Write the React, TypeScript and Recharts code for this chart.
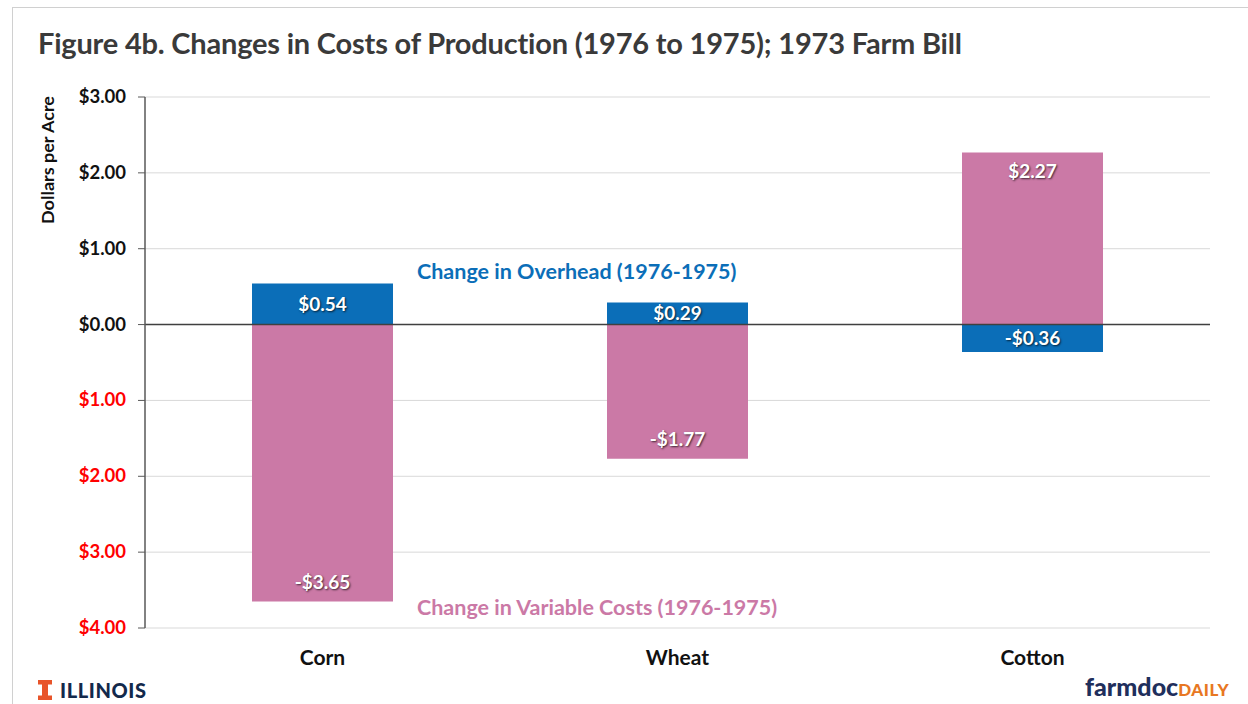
import React from 'react';
import {
  BarChart,
  Bar,
  XAxis,
  YAxis,
  CartesianGrid,
  ReferenceLine,
  LabelList,
} from 'recharts';

const crops = ['Corn', 'Wheat', 'Cotton'];
const overheadChange = [0.54, 0.29, -0.36];
const variableChange = [-3.65, -1.77, 2.27];
const yTicks = [-4, -3, -2, -1, 0, 1, 2, 3];

const BLUE = '#0B6EB8';
const PINK = '#CB79A6';
const FONT = 'Lato, "Open Sans", sans-serif';

const data = crops.map((crop, i) => ({
  crop,
  overhead: overheadChange[i],
  variable: variableChange[i],
}));

const fmt = (v: number) => (v < 0 ? '-$' : '$') + Math.abs(v).toFixed(2);

function YTick(props: any) {
  const { x, y, payload } = props;
  const v = payload.value as number;
  return (
    <text
      x={x}
      y={y}
      dy={6}
      textAnchor="end"
      fontFamily={FONT}
      fontWeight={700}
      fontSize={18.5}
      fill={v < 0 ? '#FF0000' : '#111'}
    >
      {'$' + Math.abs(v).toFixed(2)}
    </text>
  );
}

function XTick(props: any) {
  const { x, y, payload } = props;
  return (
    <text
      x={x}
      y={y}
      dy={18}
      textAnchor="middle"
      fontFamily={FONT}
      fontWeight={700}
      fontSize={21}
      fill="#111"
    >
      {payload.value}
    </text>
  );
}

const shadow = { textShadow: '1px 1px 2px rgba(0,0,0,0.7)' };

// overhead labels sit in the middle of the bar
function CenterLabel(props: any) {
  const { x, y, width, height, value } = props;
  const top = Math.min(y, y + height);
  const h = Math.abs(height);
  return (
    <text
      x={x + width / 2}
      y={top + h / 2}
      dy={6.5}
      textAnchor="middle"
      fontFamily={FONT}
      fontWeight={700}
      fontSize={19}
      fill="#fff"
      style={shadow}
    >
      {fmt(value)}
    </text>
  );
}

// variable-cost labels sit inside the far end of the bar
function EndLabel(props: any) {
  const { x, y, width, height, value } = props;
  const top = Math.min(y, y + height);
  const bottom = Math.max(y, y + height);
  const ly = value < 0 ? bottom - 19 : top + 19;
  return (
    <text
      x={x + width / 2}
      y={ly}
      dy={6.5}
      textAnchor="middle"
      fontFamily={FONT}
      fontWeight={700}
      fontSize={19}
      fill="#fff"
      style={shadow}
    >
      {fmt(value)}
    </text>
  );
}

export default function App() {
  return (
    <div
      style={{
        position: 'absolute',
        left: 0,
        top: 0,
        width: 1248,
        height: 704,
        background: '#fff',
        overflow: 'hidden',
        fontFamily: FONT,
      }}
    >
      <div style={{ position: 'absolute', left: 12, top: 7, right: 0, height: 1, background: '#D0D0D0' }} />
      <div style={{ position: 'absolute', left: 12, top: 7, bottom: 0, width: 1, background: '#D0D0D0' }} />

      <div
        style={{
          position: 'absolute',
          left: 38,
          top: 25,
          fontSize: 29,
          fontWeight: 700,
          color: '#3A3A3A',
          whiteSpace: 'nowrap',
          letterSpacing: -0.2,
        }}
      >
        Figure 4b. Changes in Costs of Production (1976 to 1975); 1973 Farm Bill
      </div>

      <svg
        width={80}
        height={260}
        style={{ position: 'absolute', left: 0, top: 80 }}
      >
        <text
          transform="translate(54 80) rotate(-90)"
          textAnchor="middle"
          fontFamily={FONT}
          fontWeight={700}
          fontSize={17}
          fill="#111"
          textLength={128}
          lengthAdjust="spacingAndGlyphs"
        >
          Dollars per Acre
        </text>
      </svg>

      <div style={{ position: 'absolute', left: 0, top: 0 }}>
        <BarChart
          width={1248}
          height={704}
          data={data}
          stackOffset="sign"
          margin={{ top: 97, right: 38, left: 0, bottom: 46 }}
        >
          <CartesianGrid vertical={false} stroke="#D9D9D9" />
          <XAxis
            dataKey="crop"
            axisLine={false}
            tickLine={false}
            tickSize={0}
            tickMargin={19}
            height={30}
            tick={<XTick />}
          />
          <YAxis
            domain={[-4, 3]}
            ticks={yTicks}
            interval={0}
            width={145}
            tickSize={7}
            tickMargin={12}
            stroke="#595959"
            axisLine={{ stroke: '#595959', strokeWidth: 1.5 }}
            tickLine={{ stroke: '#595959' }}
            tick={<YTick />}
          />
          <ReferenceLine y={0} stroke="#404040" strokeWidth={1.5} />
          <Bar dataKey="overhead" stackId="a" fill={BLUE} barSize={141} isAnimationActive={false}>
            <LabelList dataKey="overhead" content={<CenterLabel />} />
          </Bar>
          <Bar dataKey="variable" stackId="a" fill={PINK} barSize={141} isAnimationActive={false}>
            <LabelList dataKey="variable" content={<EndLabel />} />
          </Bar>
        </BarChart>
      </div>

      <div
        style={{
          position: 'absolute',
          left: 417,
          top: 258,
          fontSize: 21.5,
          fontWeight: 700,
          color: BLUE,
          whiteSpace: 'nowrap',
        }}
      >
        Change in Overhead (1976-1975)
      </div>
      <div
        style={{
          position: 'absolute',
          left: 417,
          top: 594,
          fontSize: 21.5,
          fontWeight: 700,
          color: PINK,
          whiteSpace: 'nowrap',
        }}
      >
        Change in Variable Costs (1976-1975)
      </div>

      <div style={{ position: 'absolute', left: 38, top: 678, display: 'flex', alignItems: 'center' }}>
        <svg width={14} height={20}>
          <path d="M0 0 H14 V4.5 H10 V15.5 H14 V20 H0 V15.5 H4 V4.5 H0 Z" fill="#E8542A" />
        </svg>
        <span
          style={{
            marginLeft: 8,
            fontSize: 20,
            fontWeight: 900,
            color: '#13294B',
            letterSpacing: 0.6,
          }}
        >
          ILLINOIS
        </span>
      </div>

      <div
        style={{
          position: 'absolute',
          left: 1085,
          top: 671,
          whiteSpace: 'nowrap',
          fontWeight: 900,
        }}
      >
        <span style={{ fontSize: 25, color: '#1F2F5C' }}>farmdoc</span>
        <span style={{ fontSize: 17, color: '#E87722', letterSpacing: 0.6 }}>DAILY</span>
      </div>
    </div>
  );
}
